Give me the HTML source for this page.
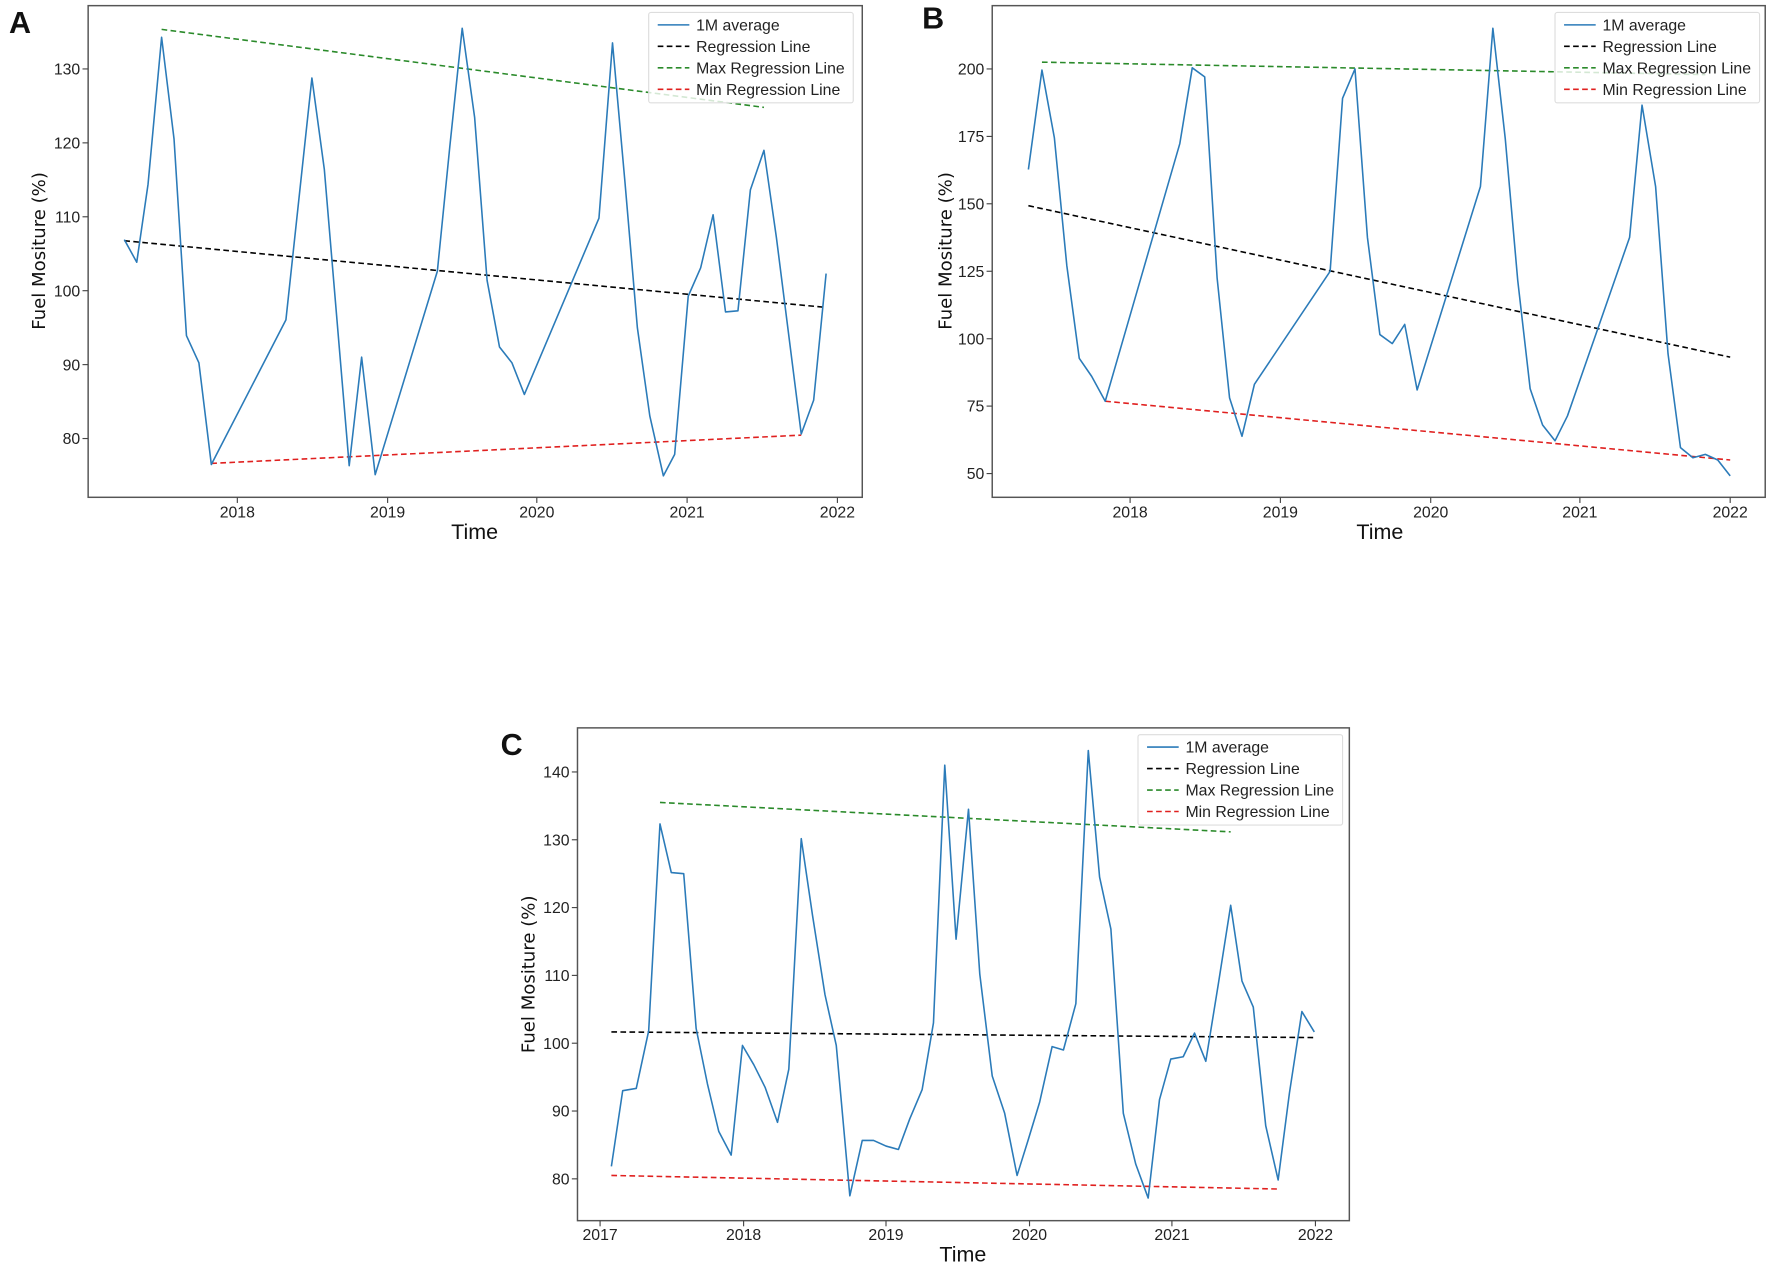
<!DOCTYPE html>
<html><head><meta charset="utf-8"><style>
html,body{margin:0;padding:0;background:#fff;}
svg{display:block;}
.t{font-family:"Liberation Sans Narrow","Liberation Sans",sans-serif;font-size:14px;fill:#222;}
.lg{font-family:"Liberation Sans Narrow","Liberation Sans",sans-serif;font-size:14px;fill:#222;}
.ax{font-family:"DejaVu Sans","Liberation Sans",sans-serif;font-size:16px;fill:#111;}
.xl{font-family:"Liberation Sans Narrow","Liberation Sans",sans-serif;font-size:19px;fill:#111;}
.pl{font-family:"Liberation Sans",sans-serif;font-weight:bold;font-size:27px;fill:#111;}
.frame{fill:none;stroke:#555;stroke-width:1.3;}
.blue{fill:none;stroke:#2b7bb9;stroke-width:1.4;stroke-linejoin:round;}
.blk{stroke:#000;stroke-width:1.4;stroke-dasharray:5,3;}
.grn{stroke:#2a8a2a;stroke-width:1.4;stroke-dasharray:5,3;}
.red{stroke:#e0201f;stroke-width:1.4;stroke-dasharray:5,3;}
.tk{stroke:#444;stroke-width:1;}
.leg{fill:#fff;stroke:#ddd;stroke-width:1;}
</style></head><body>
<svg width="1772" height="1267" viewBox="0 0 1568 1121" preserveAspectRatio="none" xmlns="http://www.w3.org/2000/svg">
<!-- Panel A -->
<text class="pl" x="8" y="29">A</text>
<rect class="frame" x="78" y="5" width="685" height="435"/>
<g class="tk">
<line x1="78" y1="388" x2="73" y2="388"/><line x1="78" y1="322.6" x2="73" y2="322.6"/><line x1="78" y1="257.2" x2="73" y2="257.2"/><line x1="78" y1="191.8" x2="73" y2="191.8"/><line x1="78" y1="126.4" x2="73" y2="126.4"/><line x1="78" y1="61" x2="73" y2="61"/>
<line x1="210" y1="440" x2="210" y2="445"/><line x1="343" y1="440" x2="343" y2="445"/><line x1="475" y1="440" x2="475" y2="445"/><line x1="608" y1="440" x2="608" y2="445"/><line x1="741" y1="440" x2="741" y2="445"/>
</g>
<g class="t" text-anchor="end">
<text x="71" y="393">80</text><text x="71" y="327.6">90</text><text x="71" y="262.2">100</text><text x="71" y="196.8">110</text><text x="71" y="131.4">120</text><text x="71" y="66">130</text>
</g>
<g class="t" text-anchor="middle">
<text x="210" y="458">2018</text><text x="343" y="458">2019</text><text x="475" y="458">2020</text><text x="608" y="458">2021</text><text x="741" y="458">2022</text>
</g>
<text class="xl" x="420" y="477" text-anchor="middle">Time</text>
<text class="ax" transform="translate(40,222) rotate(-90)" text-anchor="middle">Fuel Mositure (%)</text>
<line class="blk" x1="110" y1="213" x2="731" y2="272"/>
<line class="grn" x1="143" y1="26" x2="676" y2="95"/>
<line class="red" x1="187" y1="410" x2="709" y2="385"/>
<polyline class="blue" points="110,212 121,232 131,163 143,33 154,123 165,297 176,321 187,411 253,283 276,69 287,150 309,412 320,316 332,420 387,240 398,130 409,25 420,104 431,248 442,307 453,321 464,349 530,193 542,38 553,161 564,290 575,368 587,421 597,402 609,262 620,237 631,190 642,276 653,275 664,168 676,133 687,210 709,384 720,354 731,242"/>
<rect class="leg" x="574" y="11" width="181" height="80" rx="2" fill-opacity="0.8"/>
<line class="blue" x1="582" y1="22" x2="610" y2="22"/><line class="blk" x1="582" y1="41" x2="610" y2="41"/><line class="grn" x1="582" y1="60" x2="610" y2="60"/><line class="red" x1="582" y1="79" x2="610" y2="79"/>
<g class="lg"><text x="616" y="27">1M average</text><text x="616" y="46">Regression Line</text><text x="616" y="65">Max Regression Line</text><text x="616" y="84">Min Regression Line</text></g>

<!-- Panel B -->
<text class="pl" x="816" y="25">B</text>
<rect class="frame" x="878" y="5" width="684" height="435"/>
<g class="tk">
<line x1="878" y1="419" x2="873" y2="419"/><line x1="878" y1="359.3" x2="873" y2="359.3"/><line x1="878" y1="299.7" x2="873" y2="299.7"/><line x1="878" y1="240" x2="873" y2="240"/><line x1="878" y1="180.3" x2="873" y2="180.3"/><line x1="878" y1="120.7" x2="873" y2="120.7"/><line x1="878" y1="61" x2="873" y2="61"/>
<line x1="1000" y1="440" x2="1000" y2="445"/><line x1="1133" y1="440" x2="1133" y2="445"/><line x1="1266" y1="440" x2="1266" y2="445"/><line x1="1398" y1="440" x2="1398" y2="445"/><line x1="1531" y1="440" x2="1531" y2="445"/>
</g>
<g class="t" text-anchor="end">
<text x="871" y="424">50</text><text x="871" y="364.3">75</text><text x="871" y="304.7">100</text><text x="871" y="245">125</text><text x="871" y="185.3">150</text><text x="871" y="125.7">175</text><text x="871" y="66">200</text>
</g>
<g class="t" text-anchor="middle">
<text x="1000" y="458">2018</text><text x="1133" y="458">2019</text><text x="1266" y="458">2020</text><text x="1398" y="458">2021</text><text x="1531" y="458">2022</text>
</g>
<text class="xl" x="1221" y="477" text-anchor="middle">Time</text>
<text class="ax" transform="translate(842,222) rotate(-90)" text-anchor="middle">Fuel Mositure (%)</text>
<line class="blk" x1="910" y1="182" x2="1531" y2="316"/>
<line class="grn" x1="922" y1="55" x2="1509" y2="66"/>
<line class="red" x1="978" y1="355" x2="1531" y2="407"/>
<polyline class="blue" points="910,150 922,62 933,122 944,235 955,317 966,333 978,355 1044,127 1055,60 1066,68 1077,246 1088,352 1099,386 1110,340 1177,240 1188,87 1199,61 1210,210 1221,296 1232,304 1243,287 1254,345 1310,165 1321,25 1332,123 1343,248 1354,344 1365,376 1376,390 1387,368 1442,210 1453,93 1465,165 1476,313 1487,396 1498,405 1509,402 1520,407 1531,421"/>
<rect class="leg" x="1376" y="11" width="181" height="80" rx="2" fill-opacity="0.8"/>
<line class="blue" x1="1384" y1="22" x2="1412" y2="22"/><line class="blk" x1="1384" y1="41" x2="1412" y2="41"/><line class="grn" x1="1384" y1="60" x2="1412" y2="60"/><line class="red" x1="1384" y1="79" x2="1412" y2="79"/>
<g class="lg"><text x="1418" y="27">1M average</text><text x="1418" y="46">Regression Line</text><text x="1418" y="65">Max Regression Line</text><text x="1418" y="84">Min Regression Line</text></g>

<!-- Panel C -->
<text class="pl" x="443" y="668">C</text>
<rect class="frame" x="511" y="644" width="683" height="436"/>
<g class="tk">
<line x1="511" y1="1043" x2="506" y2="1043"/><line x1="511" y1="983" x2="506" y2="983"/><line x1="511" y1="923" x2="506" y2="923"/><line x1="511" y1="863" x2="506" y2="863"/><line x1="511" y1="803" x2="506" y2="803"/><line x1="511" y1="743" x2="506" y2="743"/><line x1="511" y1="683" x2="506" y2="683"/>
<line x1="531" y1="1080" x2="531" y2="1085"/><line x1="658" y1="1080" x2="658" y2="1085"/><line x1="784" y1="1080" x2="784" y2="1085"/><line x1="911" y1="1080" x2="911" y2="1085"/><line x1="1037" y1="1080" x2="1037" y2="1085"/><line x1="1164" y1="1080" x2="1164" y2="1085"/>
</g>
<g class="t" text-anchor="end">
<text x="504" y="1048">80</text><text x="504" y="988">90</text><text x="504" y="928">100</text><text x="504" y="868">110</text><text x="504" y="808">120</text><text x="504" y="748">130</text><text x="504" y="688">140</text>
</g>
<g class="t" text-anchor="middle">
<text x="531" y="1097">2017</text><text x="658" y="1097">2018</text><text x="784" y="1097">2019</text><text x="911" y="1097">2020</text><text x="1037" y="1097">2021</text><text x="1164" y="1097">2022</text>
</g>
<text class="xl" x="852" y="1116" text-anchor="middle">Time</text>
<text class="ax" transform="translate(473,862) rotate(-90)" text-anchor="middle">Fuel Mositure (%)</text>
<line class="blk" x1="541" y1="913" x2="1163" y2="918"/>
<line class="grn" x1="584" y1="710" x2="1089" y2="736"/>
<line class="red" x1="541" y1="1040" x2="1131" y2="1052"/>
<polyline class="blue" points="541,1032 551,965 563,963 574,912 584,729 594,772 605,773 616,910 626,959 636,1001 647,1022 657,925 667,942 677,962 688,993 698,946 709,742 719,810 730,880 740,925 752,1058 763,1009 773,1009 784,1014 795,1017 805,990 816,964 826,905 836,677 846,831 857,716 867,862 878,952 889,985 900,1040 910,1008 920,975 931,926 941,929 952,888 963,664 973,776 983,822 994,985 1005,1030 1016,1060 1026,973 1036,937 1047,935 1057,914 1067,939 1078,871 1089,801 1099,868 1109,891 1120,996 1131,1044 1141,967 1152,895 1163,913"/>
<rect class="leg" x="1007" y="650" width="181" height="80" rx="2" fill-opacity="0.8"/>
<line class="blue" x1="1015" y1="661" x2="1043" y2="661"/><line class="blk" x1="1015" y1="680" x2="1043" y2="680"/><line class="grn" x1="1015" y1="699" x2="1043" y2="699"/><line class="red" x1="1015" y1="718" x2="1043" y2="718"/>
<g class="lg"><text x="1049" y="666">1M average</text><text x="1049" y="685">Regression Line</text><text x="1049" y="704">Max Regression Line</text><text x="1049" y="723">Min Regression Line</text></g>
</svg>
</body></html>
